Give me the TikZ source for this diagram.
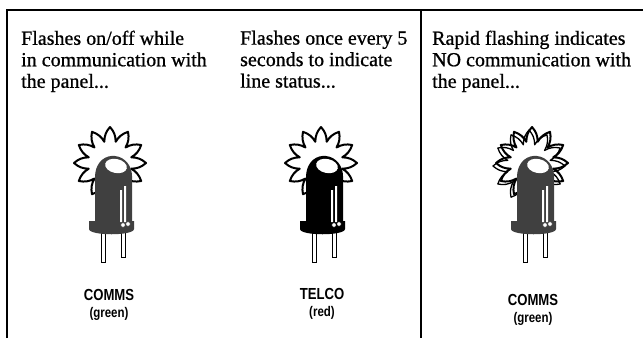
\documentclass[tikz,border=0pt]{standalone}
\usepackage{fontspec}
\setmainfont{Liberation Serif}[FakeBold=0.8]
\newfontfamily\tagfont[FakeStretch=0.82]{Liberation Sans}
\usetikzlibrary{calc}
\definecolor{ledgrey}{RGB}{64,64,64}
\tikzset{
  frame/.style={line width=1.8pt},
  note/.style={anchor=north west,align=left,inner sep=0pt,
    font=\fontsize{20}{21.5}\selectfont},
  tag/.style={anchor=base,inner sep=0pt,font=\tagfont\bfseries\fontsize{16}{16}\selectfont},
  subtag/.style={anchor=base,inner sep=0pt,font=\tagfont\bfseries\fontsize{14}{14}\selectfont},
  burst/.style={fill=white,draw=black,line width=2pt,line join=round},
  lead/.style={fill=white,draw=black,line width=0.6pt}
}

\begin{document}
\begin{tikzpicture}[x=1pt,y=-1pt]
  \useasboundingbox (0,0) rectangle (643,338);
  % open frame with one divider
  \draw[frame] (7,338) -- (7,10) -- (643,10);
  \draw[frame] (421,10) -- (421,338);
  \node[note] (txtA) at (21,30.5) {Flashes on/off while\\in communication with\\the panel...};
  \node[note] (txtB) at (240,30.5) {Flashes once every 5\\seconds to indicate\\line status...};
  \node[note] (txtC) at (432,30.5) {Rapid flashing indicates\\NO communication with\\the panel...};
  % the three leds: x, body colour, doubled burst
  \foreach \cx/\body/\echo in {113/ledgrey/0, 324/black/0, 535/ledgrey/1} {
    \begin{scope}[shift={(\cx-3,163)}]
      \draw[burst] (90:36) \foreach \k in {1,...,12} {
        to[bend left=20] (75+\k*30:22) to[bend left=20] (90+\k*30:36) } -- cycle;
      \ifnum\echo=1
        \draw[line width=1.3pt,line join=round,shift={(-3,3)}]
          (90:36) \foreach \k in {1,...,12} {
          to[bend left=20] (75+\k*30:22) to[bend left=20] (90+\k*30:36) } -- cycle;
      \fi
    \end{scope}
    \begin{scope}[shift={(\cx,0)}]
      \draw[lead] (-12,230) rectangle (-8,262);
      \draw[lead] (8,230) rectangle (12,257);
      \fill[\body] (-18,221) -- (-18,178) .. controls (-18,160) and (-6,155) .. (2,156)
        .. controls (12,157) and (19,166) .. (19,176) -- (19,221) -- (21,221)
        -- (21,229) .. controls (21,236) and (-24,236) .. (-24,229) -- (-24,221) -- cycle;
      \fill[white,rotate around={-12:(3,166)}] (3,166) ellipse [x radius=11,y radius=7];
      \fill[white] (7,190) rectangle (9,222) (11,186) rectangle (13,222);
      \filldraw[fill=white,draw=\body,line width=0.5pt]
        (10,225) circle [radius=2.3] (15,224) circle [radius=2.3];
    \end{scope}
  }
  \node[tag] (commsA) at (109,300) {COMMS};
  \node[subtag] (greenA) at (109,317) {(green)};
  \node[tag] (telco) at (322,299) {TELCO};
  \node[subtag] (red) at (322,316) {(red)};
  \node[tag] (commsB) at (533,305) {COMMS};
  \node[subtag] (greenB) at (533,322) {(green)};
\end{tikzpicture}
\end{document}
